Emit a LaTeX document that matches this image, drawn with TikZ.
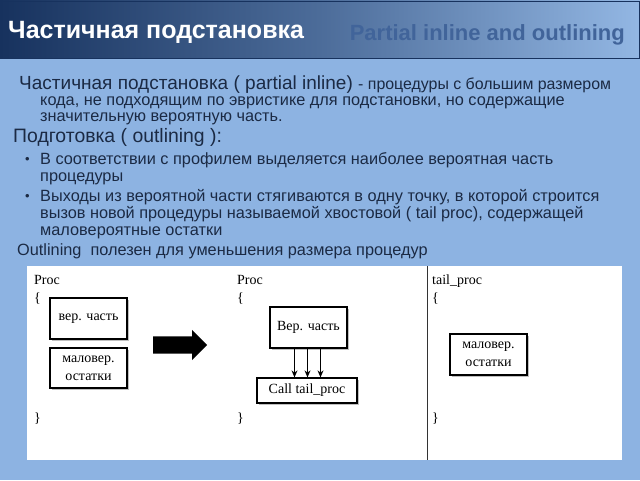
\documentclass[tikz,border=0pt]{standalone}
\usepackage{fontspec}
\setmainfont{Liberation Sans}
\newfontfamily\tnr{Liberation Serif}
\usetikzlibrary{shadows,shapes.arrows,arrows.meta}
\definecolor{bgblue}{HTML}{8DB3E2}
\definecolor{navy}{HTML}{17325E}
\definecolor{txt}{HTML}{1B2A44}
\definecolor{subt}{HTML}{41649A}
\tikzset{
  ln/.style={anchor=base west, inner sep=0pt, text=txt, font=\fontsize{16.3}{18}\selectfont},
  big/.style={ln, font=\fontsize{19}{20}\selectfont},
  code/.style={anchor=base west, inner sep=0pt, font=\tnr\fontsize{14}{15}\selectfont},
  box/.style={draw, line width=1.3pt, fill=white, align=center, inner sep=2pt,
    font=\tnr\fontsize{14}{18}\selectfont,
    drop shadow={shadow xshift=2pt, shadow yshift=-2pt, opacity=0.5}},
  flow/.style={-{Stealth[length=7pt,width=6pt]}, line width=1.1pt}
}
\begin{document}
\begin{tikzpicture}[x=1pt,y=-1pt]
\useasboundingbox (0,0) rectangle (640,480);
\fill[bgblue] (0,0) rectangle (640,480);
% title bar
\shade[left color=navy, right color=bgblue!95!white, middle color=navy!55!bgblue] (0,0) rectangle (640,58);
\draw[navy, line width=1pt] (1,1) rectangle (639,58);
\node[anchor=base west, inner sep=0pt, text=white, font=\bfseries\fontsize{25}{28}\selectfont] (title) at (8,38) {Частичная подстановка};
\node[anchor=base east, inner sep=0pt, text=subt, font=\bfseries\fontsize{22}{24}\selectfont] (subtitle) at (625,40) {Partial inline and outlining};
% body text
\node[big] (l1) at (19,89) {Частичная подстановка ( partial inline) {\fontsize{15.9}{18}\selectfont - процедуры с большим размером}};
\node[ln] (l2) at (40,105) {кода, не подходящим по эвристике для подстановки, но содержащие};
\node[ln] (l3) at (40,121.5) {значительную вероятную часть.};
\node[big, font=\fontsize{19.4}{21}\selectfont] (l4) at (13,142) {Подготовка ( outlining ):};
\node[ln, font=\fontsize{13}{15}\selectfont] (b1) at (25,163) {•};
\node[ln] (l5) at (40,164) {В соответствии с профилем выделяется наиболее вероятная часть};
\node[ln] (l6) at (40,181) {процедуры};
\node[ln, font=\fontsize{13}{15}\selectfont] (b2) at (25,200.5) {•};
\node[ln] (l7) at (40,201.5) {Выходы из вероятной части стягиваются в одну точку, в которой строится};
\node[ln] (l8) at (40,218.3) {вызов новой процедуры называемой хвостовой ( tail proc), содержащей};
\node[ln] (l9) at (40,235) {маловероятные остатки};
\node[ln] (l10) at (17,255) {Outlining\ \ полезен для уменьшения размера процедур};
% white panel
\fill[white] (27,266) rectangle (622,460);
\draw[black!80, line width=0.8pt] (427,266) -- (427,460);
% left column
\node[code] (p1) at (34,284) {Proc};
\node[code] (o1) at (34,302) {\{};
\node[code] (c1) at (34,422) {\}};
\node[box, minimum width=77pt, minimum height=41pt] (vp1) at (88.5,318.5) {вер. часть};
\node[box, minimum width=77pt, minimum height=40pt] (mo1) at (88.5,368) {маловер.\\остатки};
\node[single arrow, fill=black, inner sep=0pt, inner ysep=8.5pt, single arrow head extend=6.5pt,
  minimum height=54pt, anchor=west] (big) at (153,345) {};
% middle column
\node[code] (p2) at (237,284) {Proc};
\node[code] (o2) at (237,302) {\{};
\node[code] (c2) at (237,422) {\}};
\node[box, minimum width=77pt, minimum height=41pt] (vp2) at (308.5,327.5) {Вер. часть};
\node[box, minimum width=100pt, minimum height=25pt] (call) at (307,390.5) {Call tail\_proc};
\draw[flow] ([xshift=-14pt]vp2.south) -- ([xshift=-14pt]vp2.south |- call.north);
\draw[flow] ([xshift=-1pt]vp2.south) -- ([xshift=-1pt]vp2.south |- call.north);
\draw[flow] ([xshift=12pt]vp2.south) -- ([xshift=12pt]vp2.south |- call.north);
% right column
\node[code] (p3) at (432,284) {tail\_proc};
\node[code] (o3) at (432,302) {\{};
\node[code] (c3) at (432,422) {\}};
\node[box, minimum width=77pt, minimum height=41pt] (mo2) at (488.5,354.5) {маловер.\\остатки};
\end{tikzpicture}
\end{document}
